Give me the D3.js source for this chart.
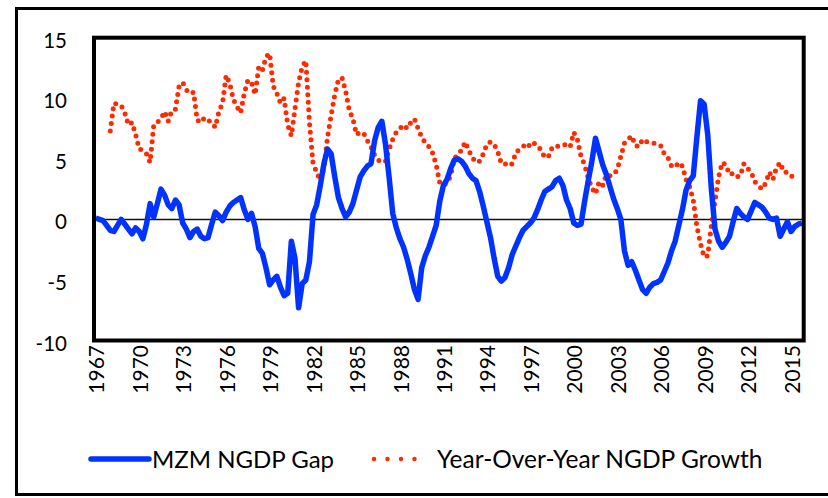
<!DOCTYPE html>
<html>
<head>
<meta charset="utf-8">
<script src="https://cdn.jsdelivr.net/npm/d3@7"></script>
<style>
  body { margin: 0; background: #fff; }
  svg { font-family: Lato, "Open Sans", sans-serif; }
</style>
</head>
<body>
<svg id="chart" width="828" height="498"></svg>
<script>
// quarterly data, 1967Q1 .. 2015Q4
var startYear = 1967;
var gap = [
  0.1, 0.0, -0.1, -0.5, -0.9, -1.0, -0.5, 0.0, -0.4, -0.8,
  -1.2, -0.7, -1.0, -1.6, -0.4, 1.3, 0.2, 1.3, 2.5, 2.0,
  1.2, 0.9, 1.6, 1.2, -0.3, -0.8, -1.5, -1.0, -0.8, -1.4,
  -1.6, -1.5, -0.4, 0.6, 0.3, -0.1, 0.6, 1.1, 1.4, 1.6,
  1.8, 0.8, 0.0, 0.5, -0.6, -2.4, -2.8, -4.0, -5.4, -5.0,
  -4.7, -5.6, -6.3, -6.1, -1.8, -3.2, -7.3, -5.3, -5.0, -3.5,
  0.4, 1.2, 2.8, 4.6, 5.8, 5.4, 3.5, 1.8, 0.9, 0.2,
  0.6, 1.3, 2.4, 3.5, 4.0, 4.4, 4.6, 6.5, 7.6, 8.1,
  6.2, 3.5, 0.5, -0.7, -1.6, -2.3, -3.3, -4.5, -5.8, -6.6,
  -4.0, -3.0, -2.3, -1.4, -0.5, 1.5, 2.8, 3.3, 4.2, 4.9,
  5.0, 4.8, 4.4, 3.8, 3.4, 3.2, 2.3, 1.1, -0.2, -1.5,
  -3.2, -4.7, -5.1, -4.8, -4.0, -2.9, -2.2, -1.5, -0.9, -0.6,
  -0.3, 0.1, 0.8, 1.6, 2.3, 2.5, 2.7, 3.2, 3.4, 2.8,
  1.6, 0.9, -0.3, -0.5, -0.4, 1.5, 3.2, 4.8, 6.7, 5.6,
  4.5, 3.7, 2.7, 1.7, 0.9, 0.0, -2.6, -3.8, -3.5, -4.2,
  -5.0, -5.8, -6.1, -5.6, -5.3, -5.2, -5.0, -4.3, -3.6, -2.6,
  -1.8, -0.5, 0.8, 2.4, 3.2, 3.6, 6.8, 9.8, 9.5, 7.0,
  2.5, -0.8, -1.8, -2.3, -1.9, -1.4, -0.2, 0.9, 0.5, 0.2,
  0.0, 0.7, 1.4, 1.2, 1.0, 0.6, 0.1, 0.0, 0.1, -1.4,
  -0.8, -0.2, -1.0, -0.6, -0.4, -0.3
];
// year-over-year growth starts 1968Q1 (quarter index 4)
var growthStart = 4;
var growth = [
  7.3, 9.6, 9.5, 9.4, 8.8, 7.8, 8.0, 7.0, 5.8, 5.7,
  5.4, 4.7, 7.8, 8.0, 8.3, 8.9, 8.1, 9.0, 9.1, 11.0,
  11.3, 10.7, 10.4, 10.5, 8.2, 8.0, 8.4, 8.2, 8.0, 7.6,
  8.9, 9.6, 11.9, 11.2, 9.9, 9.3, 8.8, 10.4, 11.5, 11.3,
  10.3, 12.6, 12.3, 13.4, 13.7, 11.0, 10.4, 9.6, 10.0, 7.8,
  6.9, 9.1, 11.3, 12.6, 13.1, 8.0, 4.6, 3.9, 3.2, 4.2,
  6.8, 8.6, 10.3, 11.5, 11.7, 10.6, 9.0, 8.3, 7.0, 7.2,
  7.1, 6.5, 6.0, 5.3, 4.9, 4.7, 4.8, 5.8, 6.6, 7.2,
  7.5, 7.8, 7.5, 8.0, 8.3, 7.5, 6.8, 6.3, 6.0, 5.5,
  4.5, 3.0, 2.8, 3.0, 3.6, 5.0, 5.4, 5.7, 6.4, 5.7,
  5.1, 4.7, 4.8, 5.4, 6.2, 6.4, 6.2, 5.6, 4.6, 4.6,
  4.4, 4.6, 5.5, 5.8, 6.0, 6.3, 6.0, 6.3, 6.1, 5.7,
  5.1, 5.2, 5.9, 6.1, 6.0, 6.1, 6.2, 6.0, 7.2, 6.6,
  5.2, 4.5, 3.4, 2.6, 2.1, 3.1, 2.8, 3.7, 3.6, 3.7,
  4.1, 5.2, 6.3, 6.6, 6.9, 6.1, 6.0, 6.6, 6.4, 6.4,
  6.3, 6.2, 6.1, 5.4, 5.1, 4.4, 4.3, 4.7, 4.4, 3.3,
  2.7, 1.6, -0.6, -2.0, -3.1, -3.0, -0.5, 1.5, 3.5, 4.7,
  4.5, 3.7, 3.8, 3.5, 3.6, 4.6, 4.2, 3.9, 3.1, 2.8,
  2.5, 3.0, 3.9, 3.3, 4.3, 4.7, 3.9, 3.9, 3.7, 3.1
];
var yTicks = [-10, -5, 0, 5, 10, 15];
var labelYears = [1967, 1970, 1973, 1976, 1979, 1982, 1985, 1988, 1991, 1994, 1997, 2000, 2003, 2006, 2009, 2012, 2015];
var seriesNames = ["MZM NGDP Gap", "Year-Over-Year NGDP Growth"];

var quarters = gap.map(function(d, i) {
    return (startYear + Math.floor(i / 4)) + "Q" + (i % 4 + 1);
});

var svg = d3.select("#chart");
var plot = { left: 94, right: 803.7, top: 37.7, bottom: 340.5 };

var x = d3.scaleBand().domain(quarters).range([plot.left, plot.right]);
var y = d3.scaleLinear().domain([-10, 15]).range([plot.bottom, plot.top]);
function cx(q) { return x(q) + x.bandwidth() / 2; }

// outer chart border
svg.append("rect")
    .attr("x", 16.5).attr("y", 8.5)
    .attr("width", 840).attr("height", 486)
    .attr("fill", "none").attr("stroke", "#000").attr("stroke-width", 3);

// zero line
svg.append("line")
    .attr("x1", plot.left).attr("x2", plot.right)
    .attr("y1", y(0)).attr("y2", y(0))
    .attr("stroke", "#111").attr("stroke-width", 1.5);

// y labels
svg.selectAll(".ylab")
    .data(yTicks)
    .enter()
    .append("text")
    .attr("class", "ylab")
    .attr("x", 67)
    .attr("y", function(d) { return y(d) + 10; })
    .attr("text-anchor", "end")
    .attr("font-size", 20.5)
    .attr("fill", "#000")
    .text(function(d) { return d; });

// x labels, rotated
svg.selectAll(".xlab")
    .data(labelYears)
    .enter()
    .append("text")
    .attr("class", "xlab")
    .attr("transform", function(d) {
        return "translate(" + (cx(d + "Q1") + 1) + "," + 345 + ") rotate(-90)";
    })
    .attr("text-anchor", "end")
    .attr("dy", "0.36em")
    .attr("font-size", 21)
    .attr("fill", "#000")
    .text(function(d) { return d; });

// series
var gapLine = d3.line()
    .x(function(d, i) { return cx(quarters[i]); })
    .y(function(d) { return y(d); });

var growthLine = d3.line()
    .x(function(d, i) { return cx(quarters[i + growthStart]); })
    .y(function(d) { return y(d); });

svg.append("path")
    .datum(growth)
    .attr("d", growthLine)
    .attr("fill", "none")
    .attr("stroke", "#ff2a00")
    .attr("stroke-width", 5)
    .attr("stroke-linecap", "round")
    .attr("stroke-dasharray", "0 7.5");

svg.append("path")
    .datum(gap)
    .attr("d", gapLine)
    .attr("fill", "none")
    .attr("stroke", "#0033ff")
    .attr("stroke-width", 5.5)
    .attr("stroke-linejoin", "round");

// plot border
svg.append("rect")
    .attr("x", plot.left).attr("y", plot.top)
    .attr("width", plot.right - plot.left).attr("height", plot.bottom - plot.top)
    .attr("fill", "none").attr("stroke", "#000").attr("stroke-width", 4);

// legend
var legend = svg.append("g");
legend.append("line")
    .attr("x1", 91).attr("x2", 149).attr("y1", 459).attr("y2", 459)
    .attr("stroke", "#0033ff").attr("stroke-width", 5.5).attr("stroke-linecap", "round");
legend.append("text")
    .attr("x", 152).attr("y", 468)
    .attr("font-size", 24).attr("fill", "#000")
    .text(seriesNames[0]);
legend.append("line")
    .attr("x1", 374).attr("x2", 428).attr("y1", 459).attr("y2", 459)
    .attr("stroke", "#ff2a00").attr("stroke-width", 4.5)
    .attr("stroke-linecap", "round").attr("stroke-dasharray", "0 13.5");
legend.append("text")
    .attr("x", 437).attr("y", 468)
    .attr("font-size", 24.5).attr("fill", "#000")
    .text(seriesNames[1]);
</script>
</body>
</html>
